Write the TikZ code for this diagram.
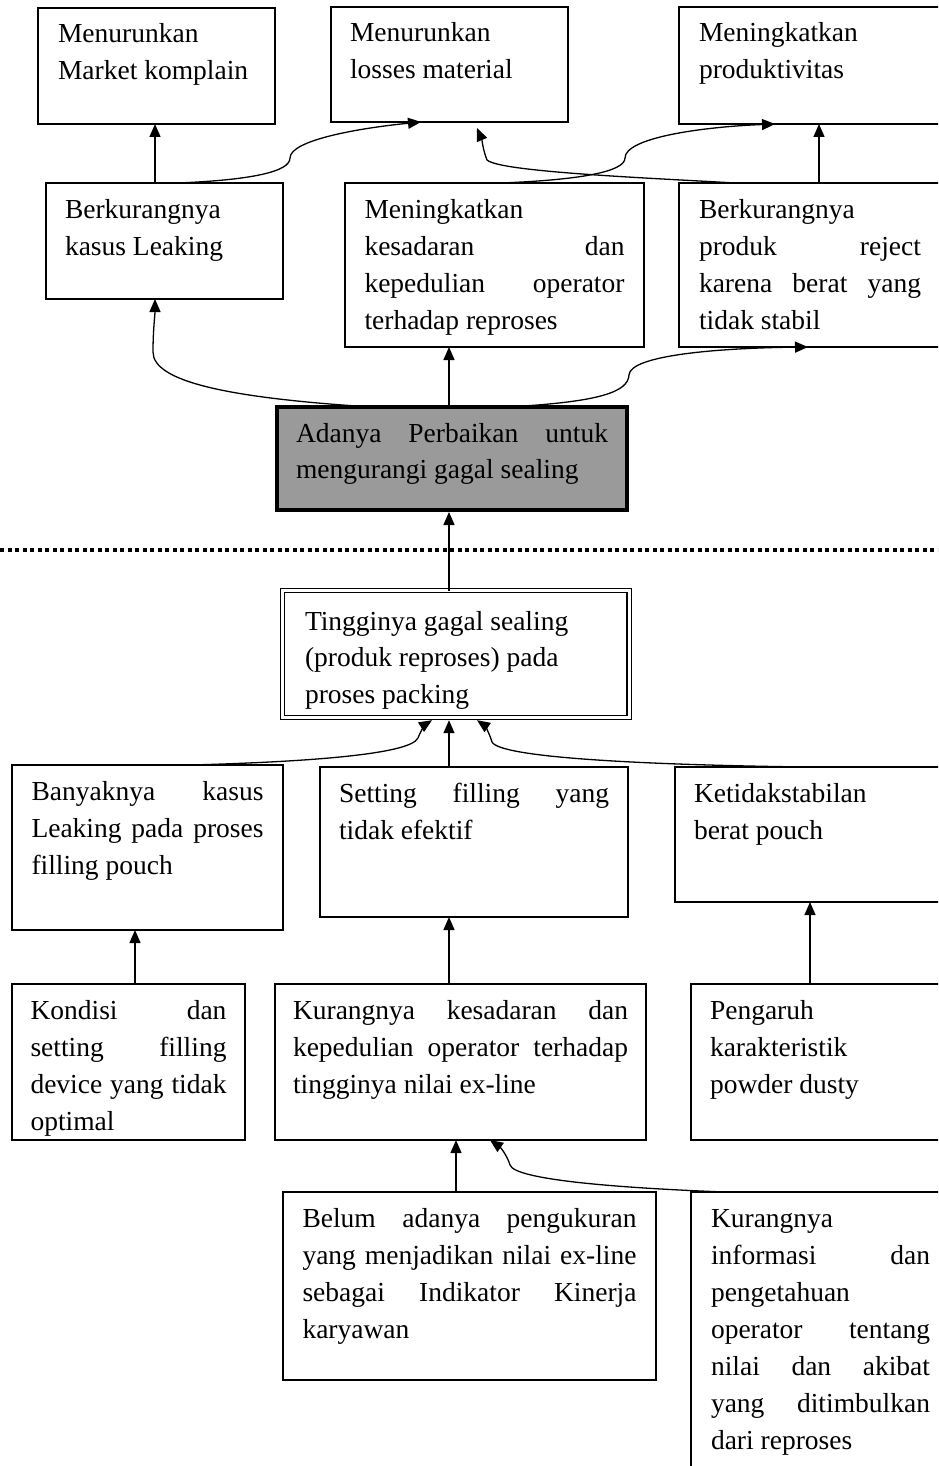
\documentclass[tikz,border=0pt]{standalone}
\usepackage{fontspec}
\setmainfont{Liberation Serif}
\usetikzlibrary{arrows.meta}

% one text line: \Ln left aligned, \Jn spread over the full width
\newcommand\Ln[1]{\hbox to \hsize{\vrule height26pt depth11pt width0pt #1\hfil}}
\newcommand\Jn[1]{\hbox to \hsize{\vrule height26pt depth11pt width0pt #1}}
% box body: width, height, top skip, baseline skip, lines
\newcommand\Body[5]{\vbox to #2pt{\hsize=#1pt\baselineskip=#4pt\lineskip=0pt\lineskiplimit=-100pt
  \vskip#3pt #5\vss}}

\definecolor{boxgray}{HTML}{9A9A9A}

\begin{document}
\begin{tikzpicture}[x=1pt,y=-1pt,
  bx/.style={draw, line width=1.4pt, anchor=north west, outer sep=0pt,
    inner ysep=0pt, inner xsep=20pt, font=\fontsize{27.5}{37}\selectfont},
  keybox/.style={bx, line width=4pt, fill=boxgray},
  rootbox/.style={bx, line width=1.2pt, double, double distance=3pt},
  arr/.style={line width=1.3pt, -{Triangle[length=13pt,width=11pt]}},
  sepline/.style={line width=4pt, dash pattern=on 4pt off 3.5pt}]

\useasboundingbox (0,0) rectangle (938,1466);
\fill[white] (0,0) rectangle (938,1466);
\clip (0,0) rectangle (938,1466);

% ---- outcomes ----
\node[bx] (A) at (38,8) {\Body{197}{116}{9}{37}{\Ln{Menurunkan}\Ln{Market komplain}}};
\node[bx, inner xsep=19pt] (B) at (331,7) {\Body{199}{115}{9}{37}{\Ln{Menurunkan}\Ln{losses material}}};
\node[bx] (C) at (679,7) {\Body{222}{117}{9}{37}{\Ln{Meningkatkan}\Ln{produktivitas}}};

\node[bx, inner xsep=19pt] (D) at (46,183) {\Body{199}{116}{9}{37}{\Ln{Berkurangnya}\Ln{kasus Leaking}}};
\node[bx, inner xsep=19.5pt] (E) at (345,183) {\Body{260}{164}{9}{37}{\Ln{Meningkatkan}\Jn{kesadaran dan}\Jn{kepedulian operator}\Ln{terhadap reproses}}};
\node[bx] (F) at (679,183) {\Body{222}{164}{9}{37}{\Ln{Berkurangnya}\Jn{produk reject}\Jn{karena berat yang}\Ln{tidak stabil}}};

% ---- improvement ----
\node[keybox, inner xsep=19pt] (G) at (277,407) {\Body{312}{103}{9}{36.5}{\Jn{Adanya Perbaikan untuk}\Ln{mengurangi gagal sealing}}};

% ---- separator ----
\coordinate (sepL) at (0,550);
\coordinate (sepR) at (938,550);
\draw[sepline] (sepL) -- (sepR);

% ---- problem ----
\node[rootbox, inner xsep=22.5pt] (H) at (282.5,590.5) {\Body{301.5}{127}{13.5}{36.5}{\Ln{Tingginya gagal sealing}\Ln{(produk reproses) pada}\Ln{proses packing}}};

% ---- causes ----
\node[bx, inner xsep=19.5pt] (I) at (12,765) {\Body{232}{165}{9}{37}{\Jn{Banyaknya kasus}\Jn{Leaking pada proses}\Ln{filling pouch}}};
\node[bx, inner xsep=19pt] (J) at (320,767) {\Body{270}{150}{9}{37}{\Jn{Setting filling yang}\Ln{tidak efektif}}};
\node[bx, inner xsep=19pt] (K) at (675,767) {\Body{232}{135}{9}{37}{\Ln{Ketidakstabilan}\Ln{berat pouch}}};

\node[bx, inner xsep=18.5pt] (L) at (12,984) {\Body{196}{156}{9}{37}{\Jn{Kondisi dan}\Jn{setting filling}\Jn{device yang tidak}\Ln{optimal}}};
\node[bx, inner xsep=18pt] (M) at (275,984) {\Body{335}{156}{9}{37}{\Jn{Kurangnya kesadaran dan}\Jn{kepedulian operator terhadap}\Ln{tingginya nilai ex-line}}};
\node[bx, inner xsep=19pt] (N) at (691,984) {\Body{222}{156}{9}{37}{\Ln{Pengaruh}\Ln{karakteristik}\Ln{powder dusty}}};

\node[bx, inner xsep=19.5pt] (O) at (283,1192) {\Body{334}{188}{9}{37}{\Jn{Belum adanya pengukuran}\Jn{yang menjadikan nilai ex-line}\Jn{sebagai Indikator Kinerja}\Ln{karyawan}}};
\node[bx] (P) at (691,1192) {\Body{219}{310}{9}{37}{\Ln{Kurangnya}\Jn{informasi dan}\Ln{pengetahuan}\Jn{operator tentang}\Jn{nilai dan akibat}\Jn{yang ditimbulkan}\Ln{dari reproses}}};

% ---- connectors: upper part ----
\draw[arr] ([xshift=109pt]D.north west) -- ([xshift=109pt]D.north west |- A.south);
\draw[arr] ([xshift=132pt]D.north west) .. controls (250,180) and (290,172) .. (290,158)
  .. controls (290,140) and (360,128) .. ([xshift=90pt]B.south west);
\draw[arr] ([xshift=156pt]E.north west) .. controls (578,180) and (625,172) .. (625,158)
  .. controls (625,138) and (700,127) .. ([xshift=96pt]C.south west);
\draw[arr] ([xshift=56pt]F.north west) .. controls (650,178) and (500,172) .. (487,160)
  .. controls (483,150) and (482,140) .. ([xshift=146pt,yshift=-6pt]B.south west);
\draw[arr] ([xshift=140pt]F.north west) -- ([xshift=140pt]F.north west |- C.south);

\draw[arr] ([xshift=172pt]G.north west) -- ([xshift=172pt]G.north west |- E.south);
\draw[arr] ([xshift=94pt]G.north west) .. controls (230,398) and (153,382) .. (153,352)
  .. controls (153,330) and (155,315) .. ([xshift=109pt]D.south west);
\draw[arr] ([xshift=230pt]G.north west) .. controls (600,402) and (628,392) .. (629,375)
  .. controls (630,355) and (720,348) .. ([xshift=129pt]F.south west);

\draw[arr, shorten >=2pt] ([xshift=166.5pt]H.north west) -- ([xshift=166.5pt]H.north west |- G.south);

% ---- connectors: lower part ----
\draw[arr] ([xshift=179pt]I.north west) .. controls (300,762) and (410,755) .. (418,738)
  .. controls (421,730) and (426,724) .. ([xshift=149.5pt,yshift=-2.7pt]H.south west);
\draw[arr, shorten >=2.7pt] ([xshift=129pt]J.north west) -- ([xshift=129pt]J.north west |- H.south);
\draw[arr] ([xshift=132pt]K.north west) .. controls (650,765) and (500,758) .. (492,742)
  .. controls (489,732) and (484,725) .. ([xshift=194.5pt,yshift=-2.7pt]H.south west);

\draw[arr] ([xshift=123pt]L.north west) -- ([xshift=123pt]L.north west |- I.south);
\draw[arr] ([xshift=174pt]M.north west) -- ([xshift=174pt]M.north west |- J.south);
\draw[arr] ([xshift=119pt]N.north west) -- ([xshift=119pt]N.north west |- K.south);
\draw[arr] ([xshift=173pt]O.north west) -- ([xshift=173pt]O.north west |- M.south);
\draw[arr] ([xshift=34pt]P.north west) .. controls (620,1188) and (515,1180) .. (510,1165)
  .. controls (507,1155) and (500,1147) .. ([xshift=215pt]M.south west);
\end{tikzpicture}
\end{document}
